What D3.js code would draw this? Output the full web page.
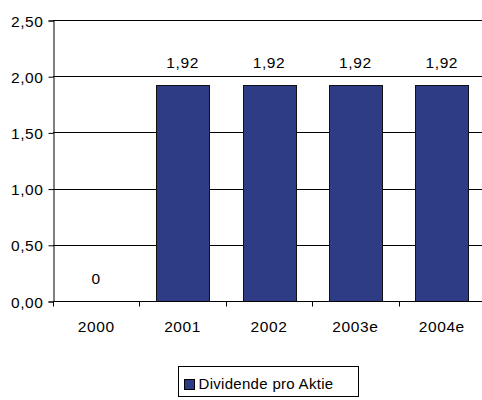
<!DOCTYPE html>
<html>
<head>
<meta charset="utf-8">
<script src="https://cdn.jsdelivr.net/npm/d3@7"></script>
<style>
  body { margin: 0; background: #fff; }
  svg { display: block; font-family: "Liberation Sans", Arial, sans-serif; }
</style>
</head>
<body>
<svg id="chart" width="482" height="400"></svg>
<script>
// data
const years = ["2000", "2001", "2002", "2003e", "2004e"];
const dividend = [0, 1.92, 1.92, 1.92, 1.92];
const valueLabels = ["0", "1,92", "1,92", "1,92", "1,92"];
const yTicks = [0, 0.5, 1, 1.5, 2, 2.5];
const seriesName = "Dividende pro Aktie";

const svg = d3.select("#chart");
const plotLeft = 53, plotRight = 485, plotTop = 20, plotBottom = 301;
const fontSize = "15.5px", spacing = "0.6px";

let x = d3.scaleBand()
	.domain(years)
	.range([plotLeft, plotRight])
	.paddingInner(0.39)
	.paddingOuter(0.195);

let band = d3.scaleBand().domain(years).range([plotLeft, plotRight]);

let y = d3.scaleLinear()
	.domain([0, 2.5])
	.range([plotBottom, plotTop]);

let fmt = d => d.toFixed(2).replace(".", ",");

// gridlines
svg.append("g")
	.selectAll("line")
	.data(yTicks)
	.enter()
	.append("line")
	.attr("x1", plotLeft)
	.attr("x2", plotRight)
	.attr("y1", d => Math.round(y(d)) + 0.5)
	.attr("y2", d => Math.round(y(d)) + 0.5)
	.attr("stroke", "#000")
	.attr("stroke-width", 1);

// bars
svg.append("g")
	.selectAll("rect")
	.data(dividend)
	.enter()
	.append("rect")
	.attr("x", (d, i) => Math.round(x(years[i])) + 0.5)
	.attr("y", d => Math.round(y(d)) + 0.5)
	.attr("width", Math.round(x.bandwidth()))
	.attr("height", d => Math.round(y(0)) - Math.round(y(d)))
	.attr("fill", d => d > 0 ? "#2E3C86" : "none")
	.attr("stroke", d => d > 0 ? "#111" : "none")
	.attr("stroke-width", 1);

// y axis
svg.append("g")
	.attr("transform", "translate(" + (plotLeft + 0.5) + ",0.5)")
	.call(d3.axisLeft(y).tickValues(yTicks).tickFormat(fmt).tickSize(5).tickPadding(5))
	.call(g => g.selectAll("path, line").attr("stroke", "#000"))
	.call(g => g.selectAll("text")
		.attr("fill", "#000")
		.attr("dy", "0.36em")
		.style("font-size", fontSize)
		.style("letter-spacing", spacing)
		.style("font-family", "Liberation Sans, Arial, sans-serif"));

// x axis: ticks between categories
let xAxis = svg.append("g")
	.attr("transform", "translate(0," + (Math.round(y(0)) + 0.5) + ")");
xAxis.append("line")
	.attr("x1", plotLeft).attr("x2", plotRight)
	.attr("stroke", "#000");
xAxis.selectAll(".tick")
	.data(years)
	.enter()
	.append("line")
	.attr("x1", d => Math.round(band(d)) + 0.5)
	.attr("x2", d => Math.round(band(d)) + 0.5)
	.attr("y1", 0)
	.attr("y2", 5)
	.attr("stroke", "#000");
xAxis.selectAll("text")
	.data(years)
	.enter()
	.append("text")
	.attr("x", d => band(d) + band.bandwidth() / 2)
	.attr("y", 30)
	.attr("text-anchor", "middle")
	.style("font-size", fontSize)
	.style("letter-spacing", spacing)
	.text(d => d);

// value labels
svg.append("g")
	.selectAll("text")
	.data(dividend)
	.enter()
	.append("text")
	.attr("x", (d, i) => x(years[i]) + x.bandwidth() / 2)
	.attr("y", d => y(d) - 17)
	.attr("text-anchor", "middle")
	.style("font-size", fontSize)
	.style("letter-spacing", spacing)
	.text((d, i) => valueLabels[i]);

// legend
let legend = svg.append("g").attr("transform", "translate(178.5,366.5)");
legend.append("rect")
	.attr("width", 180)
	.attr("height", 30)
	.attr("fill", "#fff")
	.attr("stroke", "#000");
legend.append("rect")
	.attr("x", 6)
	.attr("y", 13)
	.attr("width", 10)
	.attr("height", 10)
	.attr("fill", "#2E3C86")
	.attr("stroke", "#000");
legend.append("text")
	.attr("x", 20)
	.attr("y", 22.5)
	.style("font-size", "15px")
	.style("letter-spacing", "0.3px")
	.text(seriesName);
</script>
</body>
</html>
